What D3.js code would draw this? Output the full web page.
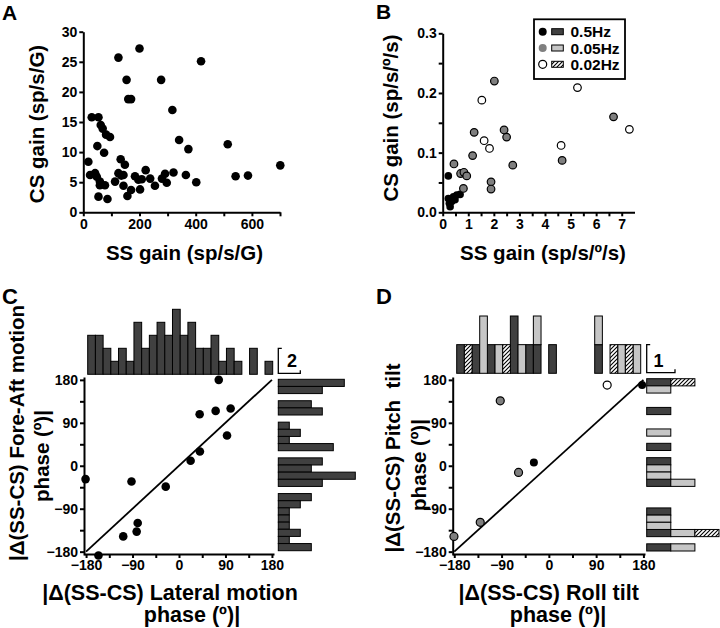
<!DOCTYPE html>
<html><head><meta charset="utf-8">
<script src="https://cdn.jsdelivr.net/npm/d3@7/dist/d3.min.js"></script>
<style>
body{margin:0;background:#fff}
svg text{font-family:"Liberation Sans",Arial,Helvetica,sans-serif;font-weight:bold;fill:#000}
</style></head>
<body><svg id="c" width="720" height="628"></svg>
<script>
// ---------------- DATA ----------------
// Panel A: SS gain vs CS gain (sp/s/G)
const aSS = [18,30,54,24,42,48,59,54,50,62,69,74,81,95,59,77,86,113,125,133,143,148,143,157,170,125,154,160,170,200,184,202,196,208,222,238,255,277,280,291,297,317,321,341,365,374,402,419,514,542,586,701,135];
const aCS = [8.4,15.8,15.8,6.2,6.5,5.9,5.1,2.6,11,14.5,13.9,9.9,12.9,12.5,4.5,4.5,2.2,5.1,6.5,8.8,6.2,7.9,4.4,2.7,3.7,25.7,22,18.8,18.8,27.2,6,3.8,5.4,5.5,7,5.6,4.4,22,5.6,6.4,4.9,17,6.6,12,6.2,10.5,5,25.1,11.3,6,6.1,7.8,6.1];
// Panel B: SS gain vs CS gain (sp/s/º/s) by frequency
const b05SS  = [0.22,0.22,0.29,0.26,0.42,0.48,0.55,0.68,0.35];
const b05CS  = [0.061,0.023,0.0095,0.015,0.026,0.021,0.029,0.030,0.018];
const b005SS = [0.44,0.70,0.83,0.94,0.81,1.17,1.23,2.02,1.89,1.89,2.40,2.50,2.74,4.67,6.68];
const b005CS = [0.081,0.065,0.067,0.061,0.040,0.095,0.134,0.220,0.051,0.039,0.138,0.126,0.079,0.087,0.160];
const b002SS = [1.53,1.62,1.83,4.63,5.27,7.30];
const b002CS = [0.188,0.120,0.107,0.112,0.209,0.139];
const freqLabels = ["0.5Hz","0.05Hz","0.02Hz"];
// Panel C: lateral vs fore-aft phase
const cLat = [77,40,71,100,93,40.5,22.5,-25.7,-92,-181,-80,-82,-108,-156];
const cFA  = [180,108,115,120,63.5,30,10.6,-43.8,-33,-28,-120,-138,-148,-188];
// histogram bins (15º) from -180 to 180
const binStarts = d3.range(-180,180,15);
const cTopCounts = [3,3,2,1,2,1,4,2,3,4,3,5,3,4,2,2,3,1,2,1,0,2,0,1];
// right histogram, bins ordered from +180 down to -180
const cRightCounts = [6,4,0,3,4,0,1,2,1,5,0,4,3,7,4,0,3,2,1,1,1,2,1,3];
// Panel D: roll vs pitch phase
const dRoll  = [-180.6,-130.6,-92.5,-57.7,-28.5,111,177.5];
const dPitch = [-148,-118.6,136,-14,7,169,169];
const dFreq  = [1,1,1,1,0,2,0]; // index into freqLabels
// D top histogram counts per frequency (bins -180..180)
const dTop05  = [1,0,1,0,1,0,0,2,0,1,1,0,1,0,0,0,0,0,1,0,0,0,0,0];
const dTop005 = [0,0,0,2,0,1,0,0,1,0,1,0,0,0,0,0,0,0,1,0,0,1,0,1];
const dTop002 = [0,1,0,0,0,0,1,0,0,0,0,0,0,0,0,0,0,0,0,0,1,0,1,0];
// D right histogram (bins from +180 down to -180)
const dRight05  = [1,0,0,0,1,0,0,0,0,1,0,1,0,0,1,0,0,0,1,0,0,1,0,1];
const dRight005 = [0,1,0,0,0,0,0,1,0,0,0,0,1,1,1,0,0,0,0,1,1,1,0,1];
const dRight002 = [1,0,0,0,0,0,0,0,0,0,0,0,0,0,0,0,0,0,0,0,0,1,0,0];

// ---------------- STYLE ----------------
const DARK = "#404040", LIGHT = "#c6c6c6", GRAYDOT = "#7f7f7f";
const svg = d3.select("#c");
const defs = svg.append("defs");
const pat = defs.append("pattern").attr("id","hatch").attr("patternUnits","userSpaceOnUse")
  .attr("width",4).attr("height",4);
pat.append("rect").attr("width",4).attr("height",4).attr("fill","#fff");
pat.append("path").attr("d","M-1,1 L1,-1 M0,4 L4,0 M3,5 L5,3").attr("stroke","#000").attr("stroke-width",1.1);
const barFill = ["#404040", LIGHT, "url(#hatch)"];
const dotFill = ["#000", GRAYDOT, "#fff"];

function styleAxis(g, fs){
  g.select(".domain").attr("stroke","#000").attr("stroke-width",2);
  g.selectAll(".tick line").attr("stroke","#000").attr("stroke-width",2);
  g.selectAll(".tick text").attr("font-size",fs).attr("fill","#000");
  g.attr("font-family",null);
}
function axis(gx, fn, scale, major, minor, fmt, fs, pad){
  const g = svg.append("g").attr("transform",gx);
  if (minor && minor.length){
    const gm = g.append("g").call(fn(scale).tickValues(minor).tickSize(4).tickSizeOuter(0).tickFormat(""));
    gm.select(".domain").remove();
    gm.selectAll(".tick line").attr("stroke","#000").attr("stroke-width",2);
  }
  const ga = g.append("g").call(fn(scale).tickValues(major).tickSize(4).tickSizeOuter(0).tickPadding(pad).tickFormat(fmt));
  styleAxis(ga, fs);
  return g;
}
function text(x,y,str,fs,anchor,rot){
  const t = svg.append("text").attr("font-size",fs).attr("text-anchor",anchor||"middle")
    .style("white-space","pre").text(str);
  if (rot) t.attr("transform",`translate(${x},${y}) rotate(-90)`).attr("dy","0.35em");
  else t.attr("x",x).attr("y",y);
  return t;
}

// ---------------- PANEL A ----------------
const xA = d3.scaleLinear().domain([0,700]).range([83.3,280]);
const yA = d3.scaleLinear().domain([0,30]).range([212.3,31.7]);
axis("translate(0,212.3)", d3.axisBottom, xA, [0,200,400,600], [100,300,500,700], d3.format("d"), 14, 3);
axis("translate(83.3,0)", d3.axisLeft, yA, d3.range(0,31,5), [], d3.format("d"), 14, 2);
svg.append("g").selectAll("circle").data(aSS).join("circle")
  .attr("cx",(d)=>xA(d)).attr("cy",(d,i)=>yA(aCS[i])).attr("r",4.3).attr("fill","#000");
text(2,19.5,"A",21,"start");
text(184.5,260,"SS gain (sp/s/G)",20.5);
text(37,124,"CS gain (sp/s/G)",20.5,"middle",true);

// ---------------- PANEL B ----------------
const xB = d3.scaleLinear().domain([0,7.5]).range([442.7,634.5]);
const yB = d3.scaleLinear().domain([0,0.3]).range([212.3,33.3]);
axis("translate(0,212.3)", d3.axisBottom, xB, d3.range(0,8), d3.range(0.5,7.5,1), d3.format("d"), 14, 3);
axis("translate(442.7,0)", d3.axisLeft, yB, [0,0.1,0.2,0.3], [0.05,0.15,0.25], d3.format(".1f"), 14, 2);
const bSets = [[b05SS,b05CS],[b005SS,b005CS],[b002SS,b002CS]];
bSets.forEach(([xs,ys],k)=>{
  svg.append("g").selectAll("circle").data(xs).join("circle")
    .attr("cx",d=>xB(d)).attr("cy",(d,i)=>yB(ys[i])).attr("r",3.8)
    .attr("fill",dotFill[k]).attr("stroke","#000").attr("stroke-width",k===0?0:1.2);
});
// legend
const lg = svg.append("g");
lg.append("rect").attr("x",534).attr("y",19.3).attr("width",91).attr("height",59.7)
  .attr("fill","#fff").attr("stroke","#000").attr("stroke-width",1.8);
const lgY = d3.scalePoint().domain(freqLabels).range([31.7,64.3]);
freqLabels.forEach((f,k)=>{
  lg.append("circle").attr("cx",542.7).attr("cy",lgY(f)).attr("r",4)
    .attr("fill",dotFill[k]).attr("stroke","#000").attr("stroke-width",k===2?1.2:0);
  lg.append("rect").attr("x",551.7).attr("y",lgY(f)-3).attr("width",11.6).attr("height",6)
    .attr("fill",barFill[k]).attr("stroke","#000").attr("stroke-width",1);
  lg.append("text").attr("x",570.5).attr("y",lgY(f)+5.5).attr("font-size",15.5).text(f);
});
text(376,18.5,"B",21,"start");
text(543,260,"SS gain (sp/s/º/s)",20.5);
text(391,118,"CS gain (sp/s/º/s)",20.5,"middle",true);

// ---------------- PANEL C ----------------
const xC = d3.scaleLinear().domain([-184,184]).range([84,274]);
const yC = d3.scaleLinear().domain([-187,186]).range([555,377]);
const phMaj = [-180,-90,0,90,180], phMin = [-135,-45,45,135];
axis("translate(0,554)", d3.axisBottom, xC, phMaj, phMin, d3.format("d"), 14, 2);
axis("translate(84,0)", d3.axisLeft, yC, phMaj, phMin, d3.format("d"), 14, 2);
svg.append("line").attr("x1",xC(-180)).attr("y1",yC(-180)).attr("x2",xC(180)).attr("y2",yC(180))
  .attr("stroke","#000").attr("stroke-width",1.8);
svg.append("g").selectAll("circle").data(cLat).join("circle")
  .attr("cx",d=>xC(d)).attr("cy",(d,i)=>yC(cFA[i])).attr("r",4.3).attr("fill","#000");
// top histogram
const xCH = d3.scaleLinear().domain([-180,180]).range([87.7,272.7]);
const hC = d3.scaleLinear().domain([0,5]).range([374.3,309.3]);
svg.append("g").selectAll("rect").data(binStarts.map((b,i)=>({b,c:cTopCounts[i]})).filter(d=>d.c>0)).join("rect")
  .attr("x",d=>xCH(d.b)).attr("width",d=>xCH(d.b+15)-xCH(d.b)).attr("y",d=>hC(d.c)).attr("height",d=>hC(0)-hC(d.c))
  .attr("fill",DARK).attr("stroke","#000").attr("stroke-width",1);
// right histogram
const yCH = d3.scaleLinear().domain([180,-180]).range([379.3,550.7]);
const wC = d3.scaleLinear().domain([0,7]).range([278.3,355.3]);
svg.append("g").selectAll("rect").data(cRightCounts.map((c,i)=>({b:180-15*i,c})).filter(d=>d.c>0)).join("rect")
  .attr("y",d=>yCH(d.b)).attr("height",d=>yCH(d.b-15)-yCH(d.b)).attr("x",wC(0)).attr("width",d=>wC(d.c)-wC(0))
  .attr("fill",DARK).attr("stroke","#000").attr("stroke-width",1);
// scale bracket "2"
svg.append("path").attr("d",`M${wC(0)+3.5},${hC(2)} H${wC(0)} V${hC(0)-1} H${wC(2)} V${hC(0)-4}`)
  .attr("fill","none").attr("stroke","#000").attr("stroke-width",1.3);
text(292,367,"2",18);
text(2,304,"C",22,"start");
text(170,600,"|Δ(SS-CS) Lateral motion",21.5);
text(192,622,"phase (º)|",21.5);
text(17,433,"|Δ(SS-CS) Fore-Aft motion",20.5,"middle",true);
text(42,456,"phase (º)|",20.5,"middle",true);

// ---------------- PANEL D ----------------
const xD = d3.scaleLinear().domain([-183,183]).range([452.7,645]);
const yD = yC;
axis("translate(0,554)", d3.axisBottom, xD, phMaj, phMin, d3.format("d"), 14, 2);
axis("translate(452.7,0)", d3.axisLeft, yD, phMaj, phMin, d3.format("d"), 14, 2);
svg.append("line").attr("x1",xD(-180)).attr("y1",yD(-180)).attr("x2",xD(180)).attr("y2",yD(180))
  .attr("stroke","#000").attr("stroke-width",1.8);
svg.append("g").selectAll("circle").data(dRoll).join("circle")
  .attr("cx",d=>xD(d)).attr("cy",(d,i)=>yD(dPitch[i])).attr("r",4)
  .attr("fill",(d,i)=>dotFill[dFreq[i]]).attr("stroke","#000").attr("stroke-width",(d,i)=>dFreq[i]===0?0:1.2);
const keys = ["f05","f005","f002"];
const stack = d3.stack().keys(keys);
// top stacked histogram
const dTopTable = binStarts.map((b,i)=>({b,f05:dTop05[i],f005:dTop005[i],f002:dTop002[i]}));
const xDH = d3.scaleLinear().domain([-180,180]).range([456.7,640.7]);
const hD = d3.scaleLinear().domain([0,2]).range([373.3,316]);
stack(dTopTable).forEach((layer,k)=>{
  svg.append("g").selectAll("rect").data(layer.filter(s=>s[1]>s[0])).join("rect")
    .attr("x",s=>xDH(s.data.b)).attr("width",s=>xDH(s.data.b+15)-xDH(s.data.b))
    .attr("y",s=>hD(s[1])).attr("height",s=>hD(s[0])-hD(s[1]))
    .attr("fill",barFill[k]).attr("stroke","#000").attr("stroke-width",1);
});
// right stacked histogram
const dRightTable = dRight05.map((v,i)=>({b:180-15*i,f05:v,f005:dRight005[i],f002:dRight002[i]}));
const yDH = d3.scaleLinear().domain([180,-180]).range([378.7,551]);
const wD = d3.scaleLinear().domain([0,3]).range([646.7,719]);
stack(dRightTable).forEach((layer,k)=>{
  svg.append("g").selectAll("rect").data(layer.filter(s=>s[1]>s[0])).join("rect")
    .attr("y",s=>yDH(s.data.b)).attr("height",s=>yDH(s.data.b-15)-yDH(s.data.b))
    .attr("x",s=>wD(s[0])).attr("width",s=>wD(s[1])-wD(s[0]))
    .attr("fill",barFill[k]).attr("stroke","#000").attr("stroke-width",1);
});
// scale bracket "1"
svg.append("path").attr("d",`M${wD(0)+3.5},${hD(1)} H${wD(0)} V${hD(0)-0.6} H${wD(0)+28.3} V${hD(0)-4}`)
  .attr("fill","none").attr("stroke","#000").attr("stroke-width",1.3);
text(658.5,367,"1",18);
text(376,304,"D",22,"start");
text(548.7,600,"|Δ(SS-CS) Roll tilt",21.5);
text(558,622,"phase (º)|",21.5);
text(393,458,"|Δ(SS-CS) Pitch  tilt",20.5,"middle",true);
text(419,465,"phase (º)|",20.5,"middle",true);
</script></body></html>
